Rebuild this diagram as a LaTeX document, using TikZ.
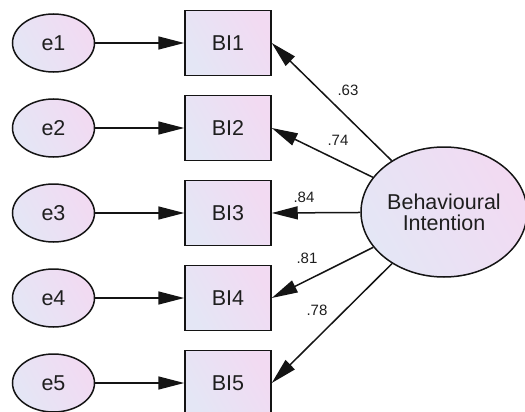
\documentclass[tikz,border=0pt]{standalone}
\usepackage{fontspec}
\setmainfont{Liberation Sans}
\usetikzlibrary{arrows.meta,shapes.geometric}
\definecolor{fillA}{RGB}{228,230,245}
\definecolor{fillB}{RGB}{242,218,242}
\definecolor{ink}{RGB}{20,20,20}
\definecolor{txt}{RGB}{30,30,30}
\tikzset{
  x=1pt, y=-1pt,
  shaded/.style={left color=fillA, right color=fillB, shading angle=120},
  errnode/.style={ellipse, draw=ink, line width=1.5pt, shaded,
    minimum width=82pt, minimum height=58pt, inner sep=0pt,
    font=\fontsize{21.5}{21}\selectfont, text=txt},
  itembox/.style={rectangle, draw=ink, line width=1.5pt, shaded,
    minimum width=86pt, minimum height=65pt, inner sep=0pt,
    font=\fontsize{21.5}{21}\selectfont, text=txt},
  latent/.style={ellipse, draw=ink, line width=1.5pt, shaded,
    minimum width=166pt, minimum height=130pt, inner sep=0pt, align=center,
    font=\fontsize{21.5}{21}\selectfont, text=txt},
  path/.style={draw=ink, line width=1.5pt, -{Triangle[length=26pt,width=13pt]}},
  coef/.style={font=\fontsize{15}{15}\selectfont, text=txt, inner sep=0pt},
}
\begin{document}
\begin{tikzpicture}
\useasboundingbox (0,0) rectangle (525,412);
% latent factor
\node[latent] (L) at (444,212) {Behavioural\\Intention};
% indicators and their error terms
\foreach \i/\y in {1/43,2/128,3/213,4/298,5/383}{
  \node[errnode] (e\i) at (53.5,\y) {e\i};
  \node[itembox] (b\i) at (228,\y) {BI\i};
  \draw[path] (e\i) -- (b\i);
}
% factor loadings
\draw[path] (L) -- (b1.east);
\draw[path] (L) -- (b2.east);
\draw[path] (L) -- (b3.east);
\draw[path] (L) -- (b4.east);
\draw[path] (L) -- (b5.east);
\node[coef] (c1) at (348,90) {.63};
\node[coef] (c2) at (338,140) {.74};
\node[coef] (c3) at (304,197) {.84};
\node[coef] (c4) at (307,258) {.81};
\node[coef] (c5) at (317,310) {.78};
\end{tikzpicture}
\end{document}
